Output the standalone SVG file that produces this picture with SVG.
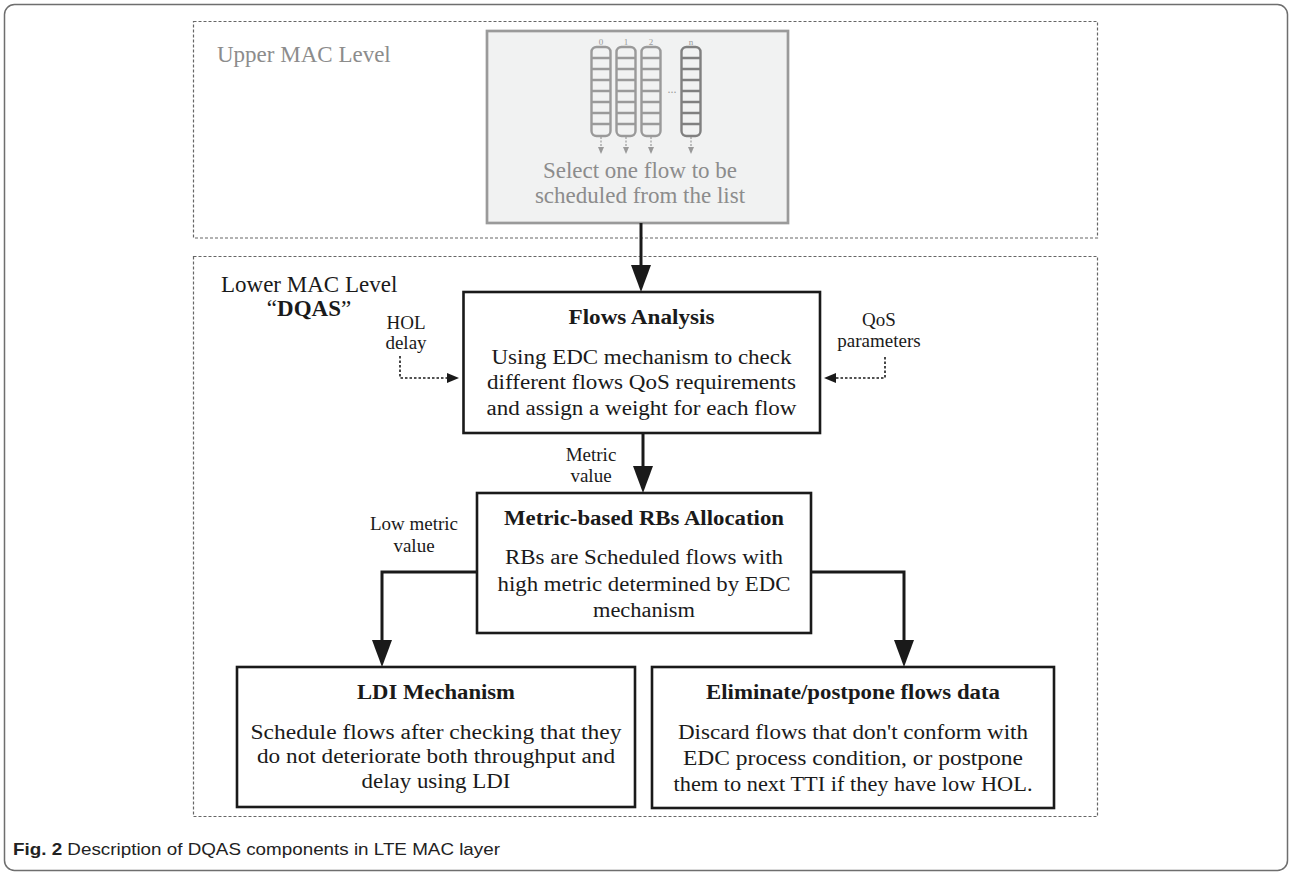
<svg xmlns="http://www.w3.org/2000/svg" width="1291" height="872" viewBox="0 0 1291 872">
<defs>
<style>
.serif{font-family:'Liberation Serif','Times New Roman',Tinos,Times,serif;}
.box{fill:#fff;stroke:#1a1a1a;stroke-width:2.6;}
.body{font-size:20px;fill:#1a1a1a;text-anchor:middle;}
.title{font-size:20px;font-weight:bold;fill:#1a1a1a;text-anchor:middle;}
.lbl{font-size:19px;fill:#1a1a1a;text-anchor:middle;}
.conn{fill:none;stroke:#1a1a1a;stroke-width:3;}
.dconn{fill:none;stroke:#1a1a1a;stroke-width:1.6;stroke-dasharray:2.5 2;}
.frame{fill:none;stroke:#666;stroke-width:1.2;stroke-dasharray:3 2;}
.q{fill:none;stroke:#9a9a9a;stroke-width:2.4;}
.qn{fill:none;stroke:#808080;stroke-width:2.4;}
.qa{fill:none;stroke:#9a9a9a;stroke-width:1.2;stroke-dasharray:2 1.5;}
.gtext{font-size:23px;fill:#8c8c8c;}
</style>
<marker id="ah" markerUnits="userSpaceOnUse" viewBox="0 0 27 20" markerWidth="27" markerHeight="20" refX="17" refY="10" orient="auto"><path d="M0,0 L27,10 L0,20 z" fill="#1a1a1a"/></marker>
<marker id="ahs" markerUnits="userSpaceOnUse" viewBox="0 0 12 10" markerWidth="12" markerHeight="10" refX="8" refY="5" orient="auto"><path d="M0,0 L12,5 L0,10 z" fill="#1a1a1a"/></marker>
<marker id="ahq" markerUnits="userSpaceOnUse" viewBox="0 0 7 6" markerWidth="7" markerHeight="6" refX="3" refY="3" orient="auto"><path d="M0,0 L7,3 L0,6 z" fill="#9a9a9a"/></marker>
</defs>
<rect width="1291" height="872" fill="#fff"/>
<rect x="4.5" y="4.5" width="1283" height="866" rx="10" fill="none" stroke="#6e6e6e" stroke-width="1.5"/>

<g id="upper-level">
<rect class="frame" x="193.5" y="21.5" width="904" height="216.5"/>
<text class="serif gtext" font-family="Liberation Serif, serif" x="217" y="62">Upper MAC Level</text>
</g>

<g id="flow-selector">
<rect x="487" y="31" width="301" height="192" fill="#f1f2f2" stroke="#9a9a9a" stroke-width="2.7"/>
<g id="queues">
<g class="q">
<rect x="591.5" y="47" width="19" height="89" rx="5"/>
<path d="M591.5 58H610.5M591.5 69H610.5M591.5 80H610.5M591.5 91H610.5M591.5 102H610.5M591.5 113H610.5M591.5 124H610.5"/>
<rect x="616.5" y="47" width="19" height="89" rx="5"/>
<path d="M616.5 58H635.5M616.5 69H635.5M616.5 80H635.5M616.5 91H635.5M616.5 102H635.5M616.5 113H635.5M616.5 124H635.5"/>
<rect x="641.5" y="47" width="19" height="89" rx="5"/>
<path d="M641.5 58H660.5M641.5 69H660.5M641.5 80H660.5M641.5 91H660.5M641.5 102H660.5M641.5 113H660.5M641.5 124H660.5"/>
</g>
<g class="qn">
<rect x="681.5" y="47" width="19" height="89" rx="5"/>
<path d="M681.5 58H700.5M681.5 69H700.5M681.5 80H700.5M681.5 91H700.5M681.5 102H700.5M681.5 113H700.5M681.5 124H700.5"/>
</g>
<g class="qa">
<path d="M601 137V150" marker-end="url(#ahq)"/>
<path d="M626 137V150" marker-end="url(#ahq)"/>
<path d="M651 137V150" marker-end="url(#ahq)"/>
<path d="M691 137V150" marker-end="url(#ahq)"/>
</g>
<g class="serif" font-size="9" fill="#9a9a9a" text-anchor="middle">
<text x="601" y="45">0</text><text x="626" y="45">1</text><text x="651" y="45">2</text><text x="691" y="45">n</text>
<text x="672" y="93" font-size="12">...</text>
</g>
</g>
<text class="serif gtext" x="640" y="178" text-anchor="middle">Select one flow to be</text>
<text class="serif gtext" x="640" y="203" text-anchor="middle">scheduled from the list</text>
</g>

<g id="lower-level">
<rect class="frame" x="193.5" y="256.5" width="904" height="560"/>
<text class="serif" x="221" y="292" font-size="23" fill="#1a1a1a">Lower MAC Level</text>
<text class="serif" x="309" y="316" font-size="23" fill="#1a1a1a" text-anchor="middle">“<tspan font-weight="bold">DQAS</tspan>”</text>
</g>

<g id="flows-analysis">
<rect class="box" x="463.5" y="292" width="356.5" height="141"/>
<text class="serif title" x="641.5" y="324" textLength="146" lengthAdjust="spacingAndGlyphs">Flows Analysis</text>
<text class="serif body" x="641.5" y="364" textLength="300" lengthAdjust="spacingAndGlyphs">Using EDC mechanism to check</text>
<text class="serif body" x="641.5" y="389" textLength="309" lengthAdjust="spacingAndGlyphs">different flows QoS requirements</text>
<text class="serif body" x="641.5" y="415" textLength="310" lengthAdjust="spacingAndGlyphs">and assign a weight for each flow</text>
</g>

<g id="metric-allocation">
<rect class="box" x="477" y="493" width="334" height="140"/>
<text class="serif title" x="644" y="525" textLength="280" lengthAdjust="spacingAndGlyphs">Metric-based RBs Allocation</text>
<text class="serif body" x="644" y="564" textLength="278" lengthAdjust="spacingAndGlyphs">RBs are Scheduled flows with</text>
<text class="serif body" x="644" y="591" textLength="293" lengthAdjust="spacingAndGlyphs">high metric determined by EDC</text>
<text class="serif body" x="644" y="617" textLength="102" lengthAdjust="spacingAndGlyphs">mechanism</text>
</g>

<g id="ldi-mechanism">
<rect class="box" x="237" y="667" width="398" height="140"/>
<text class="serif title" x="436" y="699" textLength="158" lengthAdjust="spacingAndGlyphs">LDI Mechanism</text>
<text class="serif body" x="436" y="739" textLength="371" lengthAdjust="spacingAndGlyphs">Schedule flows after checking that they</text>
<text class="serif body" x="436" y="763" textLength="358" lengthAdjust="spacingAndGlyphs">do not deteriorate both throughput and</text>
<text class="serif body" x="436" y="788" textLength="149" lengthAdjust="spacingAndGlyphs">delay using LDI</text>
</g>

<g id="eliminate-postpone">
<rect class="box" x="652" y="667" width="402" height="141"/>
<text class="serif title" x="853" y="699" textLength="294" lengthAdjust="spacingAndGlyphs">Eliminate/postpone flows data</text>
<text class="serif body" x="853" y="739" textLength="350" lengthAdjust="spacingAndGlyphs">Discard flows that don't conform with</text>
<text class="serif body" x="853" y="765" textLength="340" lengthAdjust="spacingAndGlyphs">EDC process condition, or postpone</text>
<text class="serif body" x="853" y="791" textLength="359" lengthAdjust="spacingAndGlyphs">them to next TTI if they have low HOL.</text>
</g>

<g id="input-hol">
<text class="serif lbl" x="406" y="329">HOL</text>
<text class="serif lbl" x="406" y="349">delay</text>
</g>
<g id="input-qos">
<text class="serif lbl" x="879" y="326">QoS</text>
<text class="serif lbl" x="879" y="347">parameters</text>
</g>

<g id="connectors">
<path class="conn" d="M641 223V282" marker-end="url(#ah)"/>
<path class="conn" d="M643 433V483" marker-end="url(#ah)"/>
<path class="conn" d="M477 572H382V657" marker-end="url(#ah)"/>
<path class="conn" d="M811 572H904V657" marker-end="url(#ah)"/>
<path class="dconn" d="M400 356V378H455" marker-end="url(#ahs)"/>
<path class="dconn" d="M885 357V378H828" marker-end="url(#ahs)"/>
<text class="serif lbl" x="591" y="461">Metric</text>
<text class="serif lbl" x="591" y="482">value</text>
<text class="serif lbl" x="414" y="530">Low metric</text>
<text class="serif lbl" x="414" y="552">value</text>
</g>

<g id="caption">
<text x="13" y="855" font-family="Liberation Sans, Arial, sans-serif" font-size="17" fill="#222" textLength="487" lengthAdjust="spacingAndGlyphs"><tspan font-weight="bold">Fig. 2</tspan> Description of DQAS components in LTE MAC layer</text>
</g>
</svg>
